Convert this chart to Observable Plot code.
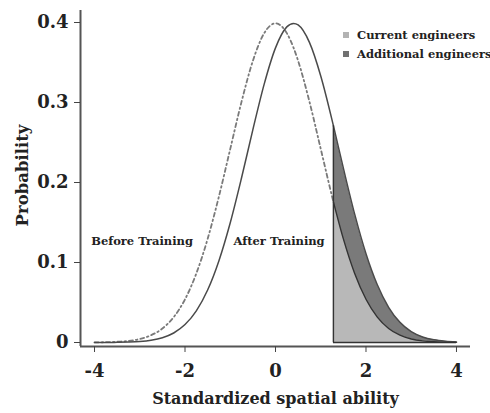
<!DOCTYPE html>
<html>
<head>
<meta charset="utf-8">
<script src="https://cdn.jsdelivr.net/npm/d3@7"></script>
<script src="https://cdn.jsdelivr.net/npm/@observablehq/plot@0.6"></script>
<style>
  html, body { margin: 0; padding: 0; background: #fff; }
  #wrap { position: relative; width: 490px; height: 413px; }
  #legend { position: absolute; left: 343px; top: 26px; font-family: "DejaVu Serif", serif; font-weight: bold; font-size: 11.5px; color: #222; line-height: 19px; white-space: nowrap; }
  #legend .sw { display: inline-block; width: 6px; height: 6px; margin-right: 8px; vertical-align: 1px; }
</style>
</head>
<body>
<div id="wrap">
  <div id="chart"></div>
  <div id="legend"></div>
</div>
<script>
// Standardized spatial ability (x) and read-off probability densities
const xs = [-4, -3.75, -3.5, -3.25, -3, -2.75, -2.5, -2.25, -2, -1.75, -1.5, -1.25, -1, -0.75, -0.5, -0.25, 0, 0.25, 0.4, 0.5, 0.75, 1, 1.25, 1.28, 1.5, 1.75, 2, 2.25, 2.5, 2.75, 3, 3.25, 3.5, 3.75, 4];
const beforeTraining = [0.0001, 0.0004, 0.0009, 0.0020, 0.0044, 0.0091, 0.0175, 0.0317, 0.0540, 0.0863, 0.1295, 0.1826, 0.2420, 0.3011, 0.3521, 0.3867, 0.3989, 0.3867, 0.3683, 0.3521, 0.3011, 0.2420, 0.1826, 0.1758, 0.1295, 0.0863, 0.0540, 0.0317, 0.0175, 0.0091, 0.0044, 0.0020, 0.0009, 0.0004, 0.0001];
const afterTraining = [0.00003, 0.00007, 0.0002, 0.0005, 0.0012, 0.0028, 0.0060, 0.0119, 0.0224, 0.0396, 0.0656, 0.1023, 0.1497, 0.2059, 0.2661, 0.3230, 0.3683, 0.3945, 0.3989, 0.3970, 0.3752, 0.3332, 0.2780, 0.2709, 0.2179, 0.1604, 0.1109, 0.0721, 0.0440, 0.0252, 0.0136, 0.0069, 0.0033, 0.0015, 0.0006];
const cutoff = 1.28;
const xTicks = [-4, -2, 0, 2, 4];
const yTicks = [0, 0.1, 0.2, 0.3, 0.4];
const legendLabels = ["Current engineers", "Additional engineers"];
const legendColors = ["#b3b3b3", "#717171"];
const annotations = [
  {x: -2.95, y: 0.126, text: "Before Training"},
  {x: 0.08, y: 0.126, text: "After Training"}
];

const data = xs.map((x, i) => ({x, before: beforeTraining[i], after: afterTraining[i]}));
const tail = data.filter(d => d.x >= cutoff);
const head = data.filter(d => d.x <= cutoff);
const cut = data.find(d => d.x === cutoff);

const font = '"DejaVu Serif", serif';
const xDomain = [-4.31, 4.31];
const yDomain = [-0.005, 0.415];

const chart = Plot.plot({
  width: 490,
  height: 413,
  marginLeft: 80,
  marginRight: 20,
  marginTop: 10,
  marginBottom: 67,
  style: {fontFamily: font, fontWeight: "bold", background: "#fff", color: "#222"},
  x: {domain: xDomain},
  y: {domain: yDomain},
  marks: [
    Plot.areaY(tail, {x: "x", y1: 0, y2: "before", fill: "#b8b8b8", curve: "monotone-x"}),
    Plot.areaY(tail, {x: "x", y1: "before", y2: "after", fill: "#7a7a7a", curve: "monotone-x"}),
    Plot.line(head, {x: "x", y: "before", stroke: "#7a7a7a", strokeWidth: 1.8, strokeDasharray: "4,3,1.5,3", curve: "monotone-x"}),
    Plot.line(tail, {x: "x", y: "before", stroke: "#333", strokeWidth: 1.4, curve: "monotone-x"}),
    Plot.line(data, {x: "x", y: "after", stroke: "#4a4a4a", strokeWidth: 1.5, curve: "monotone-x"}),
    Plot.ruleX([cut], {x: "x", y1: 0, y2: "after", stroke: "#333", strokeWidth: 1.4}),
    Plot.ruleY([0], {x1: cutoff, x2: 4, stroke: "#333", strokeWidth: 1.4}),
    Plot.ruleY([yDomain[0]], {stroke: "#555", strokeWidth: 2}),
    Plot.ruleX([xDomain[0]], {stroke: "#555", strokeWidth: 2}),
    Plot.axisX({ticks: xTicks, tickSize: 6, tickPadding: 12, fontSize: 18, fontFamily: font, fontWeight: "bold", stroke: "#444", tickFormat: d => String(d).replace("−", "-"), label: null}),
    Plot.axisY({ticks: yTicks, tickSize: 6, tickPadding: 6, fontSize: 18, fontFamily: font, fontWeight: "bold", stroke: "#444", tickFormat: d => d === 0 ? "0" : d3.format(".1f")(d), label: null}),
    Plot.text(["Standardized spatial ability"], {frameAnchor: "bottom", dy: 57, fontSize: 16, fontFamily: font, fontWeight: "bold", fill: "#222"}),
    Plot.text(["Probability"], {frameAnchor: "left", textAnchor: "middle", dx: -58, dy: -3, rotate: -90, fontSize: 16.5, fontFamily: font, fontWeight: "bold", fill: "#222"}),
    Plot.text(annotations, {x: "x", y: "y", text: "text", fontSize: 11.5, fontFamily: font, fontWeight: "bold", fill: "#222"})
  ]
});
document.getElementById("chart").appendChild(chart);

const legend = document.getElementById("legend");
legendLabels.forEach((lab, i) => {
  const row = document.createElement("div");
  const sw = document.createElement("span");
  sw.className = "sw";
  sw.style.background = legendColors[i];
  row.appendChild(sw);
  row.appendChild(document.createTextNode(lab));
  legend.appendChild(row);
});
</script>
</body>
</html>
